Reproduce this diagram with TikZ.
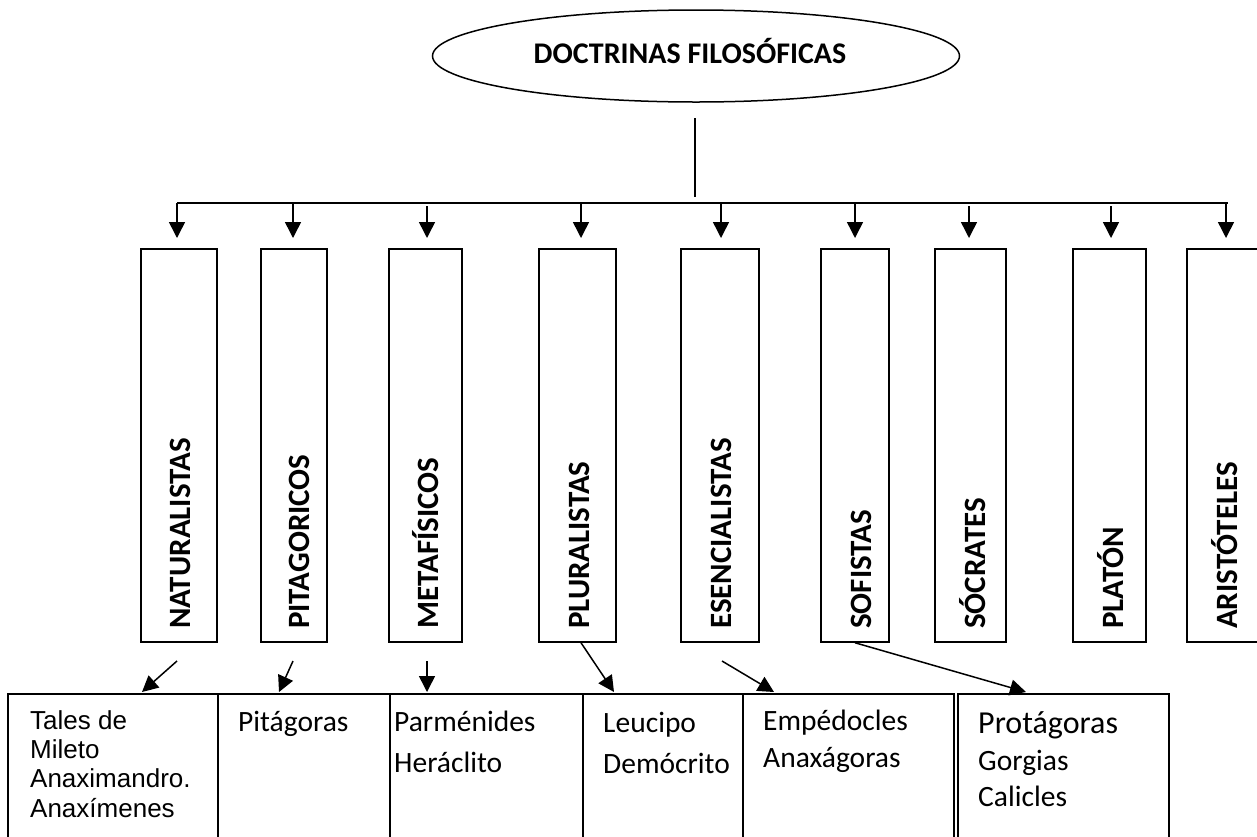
\documentclass[tikz,border=0pt]{standalone}
\usepackage{fontspec}
\setmainfont{Carlito}
\newfontfamily\arialf{Liberation Sans}
\usetikzlibrary{shapes.geometric,arrows.meta}
\begin{document}
\begin{tikzpicture}[x=1pt,y=-1pt,
  ln/.style={line width=1.5pt},
  arr/.style={line width=1.5pt,-{Triangle[width=16pt,length=16pt]}},
  vbox/.style={draw,line width=1.5pt,minimum height=393pt,inner sep=0pt},
  bbox/.style={draw,line width=1.5pt,anchor=north west,inner sep=0pt,minimum height=170pt},
  vtxt/.style={rotate=90,anchor=base west,inner sep=0pt,font=\fontsize{31}{31}\selectfont\bfseries},
  btxt/.style={anchor=base west,inner sep=0pt,font=\fontsize{29.5}{29.5}\selectfont},
  atxt/.style={anchor=base west,inner sep=0pt,font=\arialf\fontsize{26}{26}\selectfont},
]
\useasboundingbox (0,0) rectangle (1257,836);

% root
\node[ellipse,draw,line width=1.5pt,minimum width=527pt,minimum height=92pt,inner sep=0pt] (root) at (696,56) {};
\node[anchor=base,inner sep=0pt,font=\fontsize{30}{30}\selectfont\bfseries] (title) at (690,63) {DOCTRINAS FILOSÓFICAS};

% stem and bar
\coordinate (s1) at (695,118);
\coordinate (s2) at (695,197);
\coordinate (bl) at (177,203);
\coordinate (br) at (1228,203);
\draw[ln] (s1) -- (s2);
\draw[ln] (bl) -- (br);

% vertical boxes
\node[vbox,minimum width=76pt] (nat) at (179,445.5) {};
\node[vbox,minimum width=66pt] (pit) at (294,445.5) {};
\node[vbox,minimum width=73pt] (met) at (425.5,445.5) {};
\node[vbox,minimum width=77pt] (plu) at (577.5,445.5) {};
\node[vbox,minimum width=78pt] (ese) at (720,445.5) {};
\node[vbox,minimum width=68pt] (sof) at (855,445.5) {};
\node[vbox,minimum width=71pt] (soc) at (970.5,445.5) {};
\node[vbox,minimum width=73pt] (pla) at (1109.5,445.5) {};
\node[vbox,minimum width=80pt] (ari) at (1227,445.5) {};

% vertical texts
\node[vtxt] (tnat) at (190,629) {NATURALISTAS};
\node[vtxt] (tpit) at (309,629) {PITAGORICOS};
\node[vtxt] (tmet) at (438,629) {METAFÍSICOS};
\node[vtxt] (tplu) at (589,629) {PLURALISTAS};
\node[vtxt] (tese) at (731,629) {ESENCIALISTAS};
\node[vtxt] (tsof) at (871,629) {SOFISTAS};
\node[vtxt] (tsoc) at (985,629) {SÓCRATES};
\node[vtxt] (tpla) at (1123,629) {PLATÓN};
\node[vtxt] (tari) at (1237,629) {ARISTÓTELES};

% arrows from bar
\draw[arr] (177,203) -- (177,238);
\draw[arr] (293,203) -- (293,238);
\draw[arr] (427,206) -- (427,238);
\draw[arr] (581,203) -- (581,238);
\draw[arr] (721,203) -- (721,238);
\draw[arr] (855,203) -- (855,238);
\draw[arr] (969,206) -- (969,238);
\draw[arr] (1111,206) -- (1111,238);
\draw[arr] (1226,203) -- (1226,238);

% bottom boxes
\node[bbox,minimum width=210pt] (b1) at (7,693) {};
\node[bbox,minimum width=172pt] (b2) at (217,693) {};
\node[bbox,minimum width=193pt] (b3) at (389,693) {};
\node[bbox,minimum width=160pt] (b4) at (582,693) {};
\node[bbox,minimum width=211pt] (b5) at (742,693) {};
\node[bbox,minimum width=211pt] (b6) at (957,693) {};

% bottom texts
\node[atxt] (t11) at (30,729) {Tales de};
\node[atxt] (t12) at (30,758) {Mileto};
\node[atxt] (t13) at (30,787) {Anaximandro.};
\node[atxt] (t14) at (30,817) {Anaxímenes};
\node[btxt] (t21) at (238,731) {Pitágoras};
\node[btxt] (t31) at (394,731) {Parménides};
\node[btxt] (t32) at (394,772) {Heráclito};
\node[btxt] (t41) at (603,732) {Leucipo};
\node[btxt] (t42) at (603,773) {Demócrito};
\node[btxt] (t51) at (763,730) {Empédocles};
\node[btxt] (t52) at (763,767) {Anaxágoras};
\node[btxt,font=\fontsize{32}{32}\selectfont] (t61) at (978,733) {Protágoras};
\node[btxt] (t62) at (978,770) {Gorgias};
\node[btxt] (t63) at (978,806) {Calicles};

% arrows to bottom boxes
\coordinate (u1) at (177,661); \coordinate (e1) at (142,692);
\coordinate (u2) at (293,661); \coordinate (e2) at (279,692);
\coordinate (u3) at (427,661); \coordinate (e3) at (427,692);
\coordinate (e4) at (614,692);
\coordinate (u5) at (722,661); \coordinate (e5) at (774,692);
\coordinate (e6) at (1026,692);
\draw[arr] (u1) -- (e1);
\draw[arr] (u2) -- (e2);
\draw[arr] (u3) -- (e3);
\draw[arr] ([xshift=3.5pt]plu.south) -- (e4);
\draw[arr] (u5) -- (e5);
\draw[arr] (sof.south) -- (e6);
\end{tikzpicture}
\end{document}
